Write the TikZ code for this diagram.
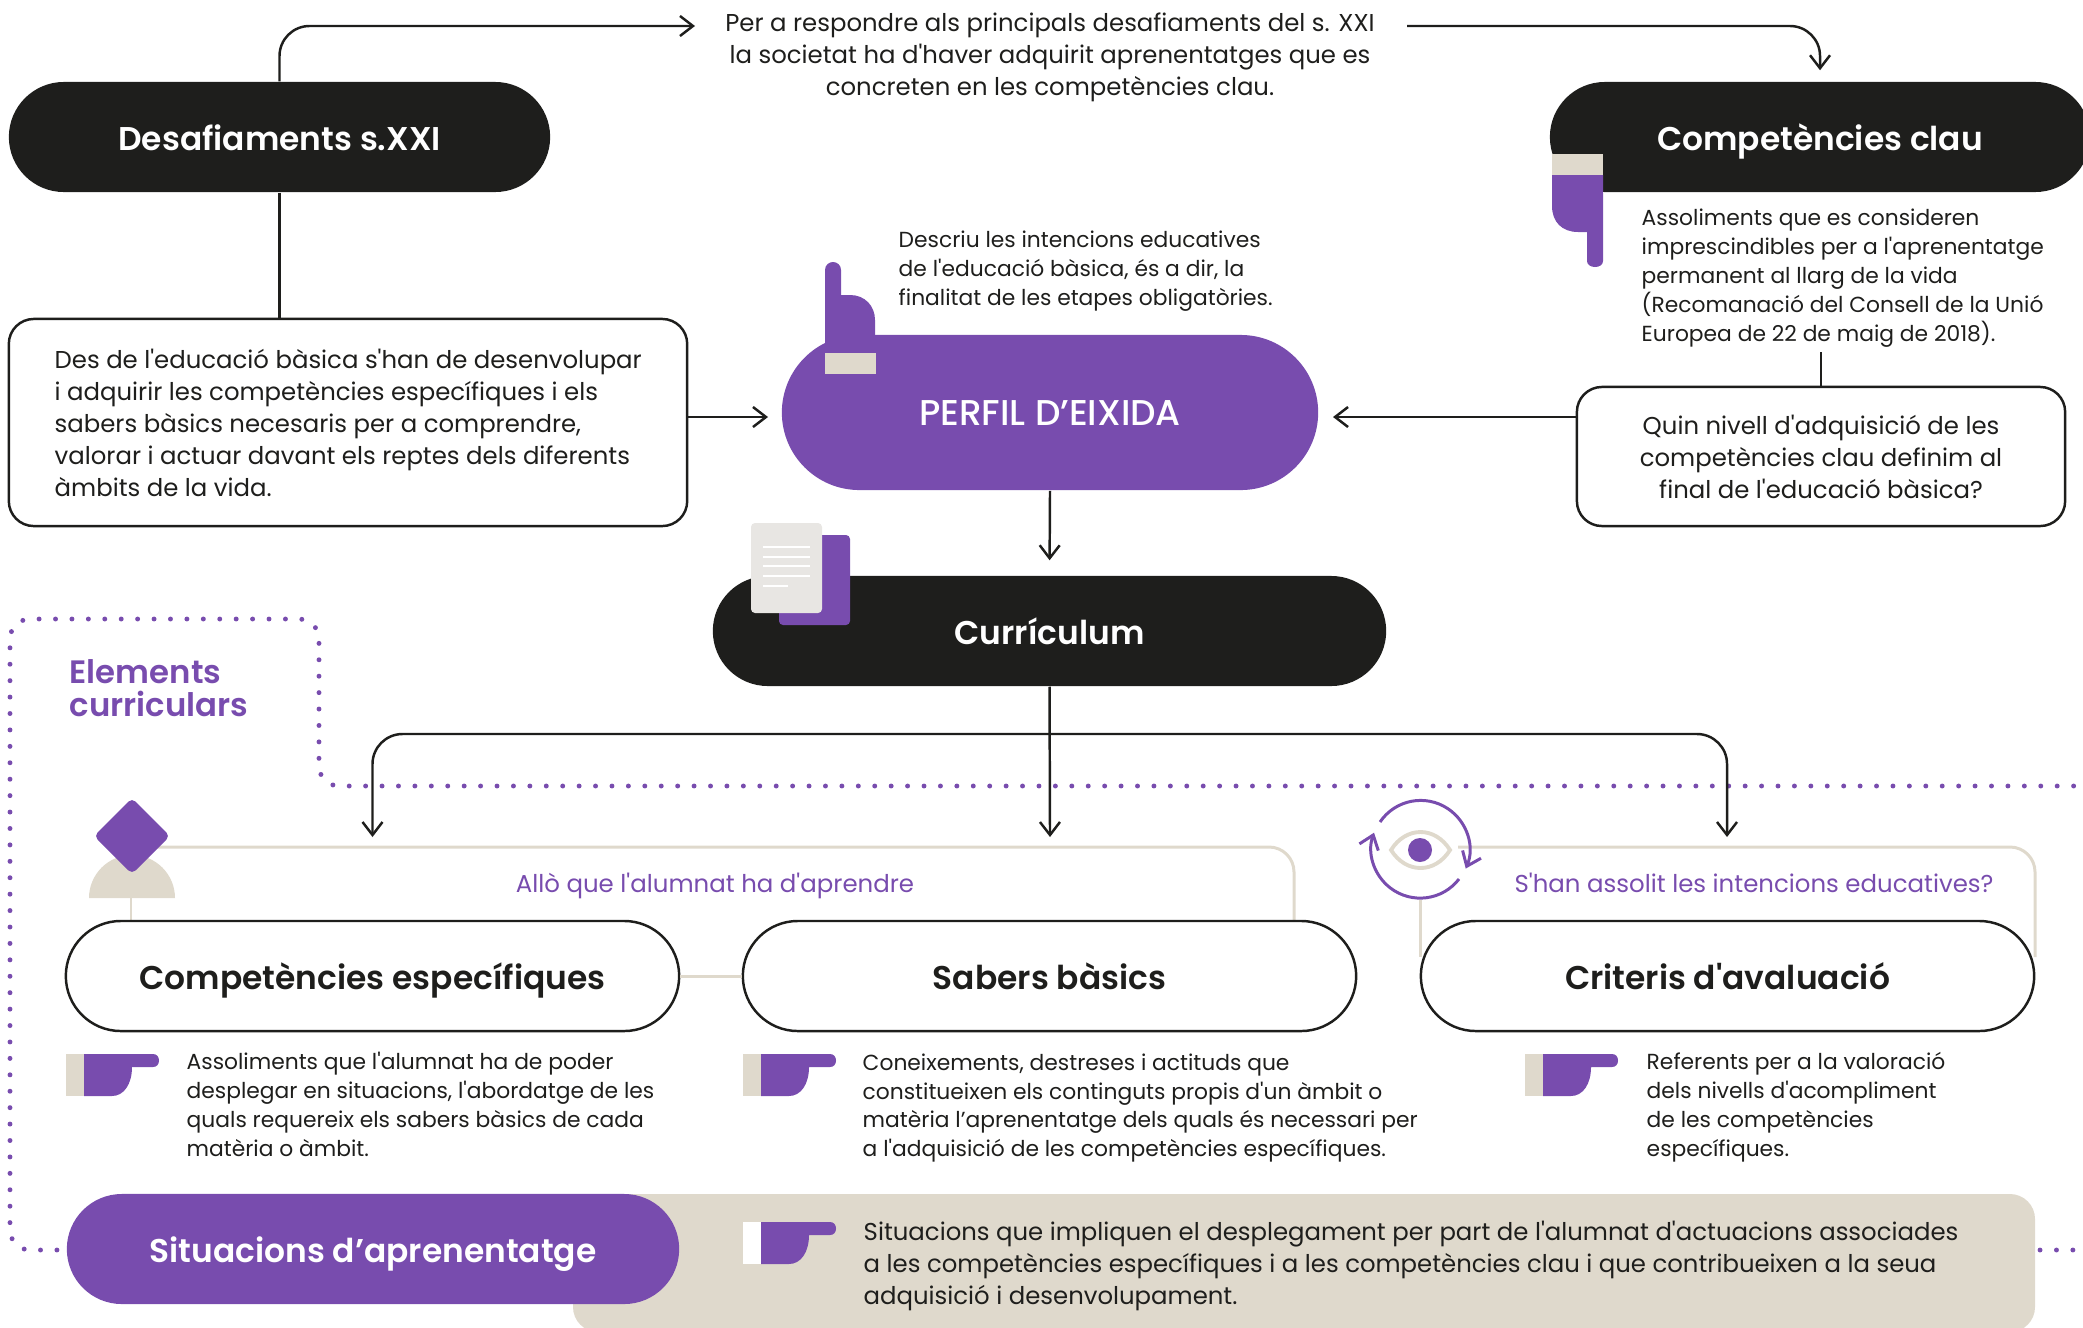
\documentclass[tikz,border=0pt]{standalone}
\usepackage{fontspec}
\usepackage{tikz}
\usetikzlibrary{arrows.meta,shapes.misc}
\newfontfamily\bodyfont{Poppins}
\newfontfamily\titlefont{Poppins SemiBold}
\newfontfamily\midfont{Poppins Medium}
\definecolor{lila}{HTML}{784CAE}
\definecolor{negre}{HTML}{1E1E1C}
\definecolor{sand}{HTML}{DFD9CC}
\definecolor{paper}{HTML}{E8E6E3}
\tikzset{
  >={Straight Barb[length=1.3mm,width=2mm]},
  conn/.style={draw=negre,line width=0.7pt},
  frameline/.style={draw=sand,line width=0.85pt},
  dotline/.style={lila,line width=1.4pt,line cap=round,dash pattern=on 0pt off 4.67pt},
  pill/.style={rounded rectangle,inner sep=0pt,minimum height=1.1cm,text height=8pt,text depth=0.3pt,font=\titlefont\fontsize{9.35}{11}\selectfont},
  pilldark/.style={pill,fill=negre,text=white},
  pilllila/.style={pill,fill=lila,text=white},
  pillopen/.style={pill,draw=negre,line width=0.7pt,fill=white,text=negre,minimum width=6.13cm},
  txtbig/.style={inner sep=0pt,text=negre,align=left,font=\bodyfont\fontsize{6.93}{9.1}\selectfont},
  txtsmall/.style={inner sep=0pt,text=negre,align=left,font=\bodyfont\fontsize{6.2}{8.2}\selectfont},
  txtlila/.style={inner sep=0pt,text=lila,text height=5.5pt,text depth=1.5pt,font=\bodyfont\fontsize{6.95}{9.1}\selectfont},
  boxtxt/.style={conn,fill=white,rounded corners=0.25cm,inner sep=0pt},
}
\begin{document}
\begin{tikzpicture}[x=0.01cm,y=-0.01cm]
\useasboundingbox (0,0) rectangle (2083,1327);
\clip (0,0) rectangle (2083,1327);

% dotted frame
\draw[dotline,rounded corners=0.2cm]
	(2090,786) -- (319,786) -- (319,619) -- (10,619) -- (10,1250) -- (70,1250);
\draw[dotline] (2040,1250) -- (2090,1250);
\draw (69,688) node[anchor=west,align=left,inner sep=0pt,text=lila,font=\titlefont\fontsize{9.2}{9.4}\selectfont] (elements) {Elements\\curriculars};

% sand box
\fill[sand,rounded corners=0.25cm] (573,1194) rectangle (2035,1332);

% top row
\draw (279.5,137) node[pilldark,minimum width=5.41cm] (desafiaments) {Desafiaments s.XXI};
\draw (1820,137) node[pilldark,minimum width=5.40cm] (clau) {Competències clau};
\draw (1050,57) node[txtbig,align=center] (reptes) {Per a respondre als principals desafiaments del s. XXI\\la societat ha d'haver adquirit aprenentatges que es\\concreten en les competències clau.};
\coordinate (reptesin) at (695,26);
\coordinate (reptesout) at (1407,26);
\draw[conn,->,rounded corners=0.3cm] (desafiaments.north) |- (reptesin);
\draw[conn,->,rounded corners=0.3cm,shorten >=0.11cm] (reptesout) -| (clau.north);

% boxes at both sides
\draw (348,422.5) node[boxtxt,minimum width=6.78cm,minimum height=2.07cm] (reptesbox) {};
\draw (54,423) node[txtbig,anchor=west] (reptestxt) {Des de l'educació bàsica s'han de desenvolupar\\i adquirir les competències específiques i els\\sabers bàsics necesaris per a comprendre,\\valorar i actuar davant els reptes dels diferents\\àmbits de la vida.};
\draw (1821,456.5) node[boxtxt,minimum width=4.88cm,minimum height=1.39cm,align=center,font=\bodyfont\fontsize{6.93}{9.1}\selectfont,text=negre] (nivell) {Quin nivell d'adquisició de les\\competències clau definim al\\final de l'educació bàsica?};
\draw[conn] (desafiaments.south) -- (reptesbox.north -| desafiaments.south);
\draw (1641,278) node[txtsmall,anchor=west] (clautxt) {Assoliments que es consideren\\imprescindibles per a l'aprenentatge\\permanent al llarg de la vida\\(Recomanació del Consell de la Unió\\Europea de 22 de maig de 2018).};
\coordinate (claupeu) at (1821,352);
\draw[conn] (claupeu) -- (nivell.north);

% hand on clau
\fill[sand] (1552,154) rectangle (1603,175);
\fill[lila] (1552,175) -- (1603,175) -- (1603,261) .. controls (1603,265) and (1599,267) .. (1595,267) .. controls (1591,267) and (1587,265) .. (1587,261) -- (1587,232) -- (1578,232) .. controls (1562,232) and (1552,222) .. (1552,206) -- cycle;

% perfil
\fill[lila] (825,350) -- (825,270) .. controls (825,265) and (829,262) .. (833,262) .. controls (837,262) and (841,265) .. (841,270) -- (841,295) -- (850,295) .. controls (865,295) and (875,306) .. (875,320) -- (875,350) -- cycle;
\draw (1050,412.5) node[pilllila,minimum width=5.36cm,minimum height=1.55cm,text height=7.2pt,text depth=0pt,font=\midfont\fontsize{10.2}{12}\selectfont] (perfil) {PERFIL D’EIXIDA};
\fill[sand] (825,353) rectangle (876,374);
\draw (898,271) node[txtsmall,anchor=west] (perfiltxt) {Descriu les intencions educatives\\de l'educació bàsica, és a dir, la\\finalitat de les etapes obligatòries.};
\coordinate (perfilesq) at (768,417);
\coordinate (perfildre) at (1333,417);
\draw[conn,->] (perfilesq -| reptesbox.east) -- (perfilesq);
\draw[conn,->] (perfildre -| nivell.west) -- (perfildre);

% curriculum
\draw (1049.5,631) node[pilldark,minimum width=6.73cm] (curriculum) {Currículum};
\draw[conn,->,shorten >=0.15cm] (perfil.south) -- (curriculum.north);
\fill[lila,rounded corners=0.04cm] (779,535) rectangle (850,625);
\fill[paper,rounded corners=0.04cm] (751,523) rectangle (822,613);
\foreach \ly/\lx in {547/810,557/810,566/810,576/810,586/788}
	\draw[white,line width=0.5pt] (763,\ly) -- (\lx,\ly);

% branches
\coordinate (branca) at (1050,734);
\coordinate (puntaesp) at (372.5,837);
\coordinate (puntasab) at (1050,837);
\coordinate (puntacri) at (1727,837);
\draw[conn,->] (curriculum.south) -- (puntasab);
\draw[conn,->,rounded corners=0.3cm] (branca) -| (puntaesp);
\draw[conn,->,rounded corners=0.3cm] (branca) -| (puntacri);

% sand frame lines
\coordinate (marcaesq) at (132,847);
\coordinate (marcadre) at (1294,935);
\coordinate (marcull) at (1420,847);
\coordinate (marcfi) at (2035,957);
\coordinate (marcfi2) at (1420,957);
\coordinate (mitja) at (131,898);
\draw[frameline,rounded corners=0.25cm] (marcaesq) -| (marcadre);
\draw[frameline,rounded corners=0.25cm] (marcull) -| (marcfi);
\draw[frameline] (1420,900) -- (marcfi2);
\draw[frameline] (mitja) -- (131,925);

% pills
\draw (372.5,976) node[pillopen] (compesp) {Competències específiques};
\draw (1049.5,976) node[pillopen] (sabers) {Sabers bàsics};
\draw (1727.5,976) node[pillopen] (criteris) {Criteris d'avaluació};
\draw[frameline] (compesp.east) -- (sabers.west);
\draw (715,885.5) node[txtlila] (alumnat) {Allò que l'alumnat ha d'aprendre};
\draw (1754,885.5) node[txtlila] (intencions) {S'han assolit les intencions educatives?};

% diamond
\fill[sand] (89,898) arc[start angle=180,end angle=360,radius=43] -- cycle;
\fill[lila,rounded corners=0.05cm] (132,798) -- (170,836) -- (132,874) -- (94,836) -- cycle;

% eye
\fill[white] (1420,849) circle [radius=38];
\draw[sand,line width=1.1pt] (1391,850) .. controls (1406,826) and (1435,826) .. (1450,850) .. controls (1435,874) and (1406,874) .. (1391,850) -- cycle;
\fill[lila] (1420,850) circle [radius=12];
\draw[lila,line width=0.85pt,->] (1380,822) arc[start angle=214,end angle=383,radius=49];
\draw[lila,line width=0.85pt,->] (1459,879) arc[start angle=37.6,end angle=199.6,radius=49];

% hands
\foreach \hx/\hy/\cuff in {66/1054/sand,743/1054/sand,1525/1054/sand,743/1222/white}{
	\fill[\cuff] (\hx,\hy) rectangle ++(18,42);
	\begin{scope}[shift={(\hx,\hy)}]
	\fill[lila] (18,0) -- (87,0) .. controls (91,0) and (93,3) .. (93,6.5) .. controls (93,10) and (91,13) .. (87,13) -- (66,13) .. controls (66,30) and (58,42) .. (46,42) -- (18,42) -- cycle;
	\end{scope}
}

% element texts
\draw (186,1104.5) node[txtsmall,anchor=west] (esptxt) {Assoliments que l'alumnat ha de poder\\desplegar en situacions, l'abordatge de les\\quals requereix els sabers bàsics de cada\\matèria o àmbit.};
\draw (862,1108) node[txtsmall,anchor=west] (sabtxt) {Coneixements, destreses i actituds que\\constitueixen els continguts propis d'un àmbit o\\matèria l’aprenentatge dels quals és necessari per\\a l'adquisició de les competències específiques.};
\draw (1646,1107) node[txtsmall,anchor=west] (critxt) {Referents per a la valoració\\dels nivells d'acompliment\\de les competències\\específiques.};

% situacions
\draw (373,1249) node[pilllila,minimum width=6.12cm] (situacions) {Situacions d’aprenentatge};
\draw (863,1265.5) node[txtbig,anchor=west] (sittxt) {Situacions que impliquen el desplegament per part de l'alumnat d'actuacions associades\\a les competències específiques i a les competències clau i que contribueixen a la seua\\adquisició i desenvolupament.};
\end{tikzpicture}
\end{document}
